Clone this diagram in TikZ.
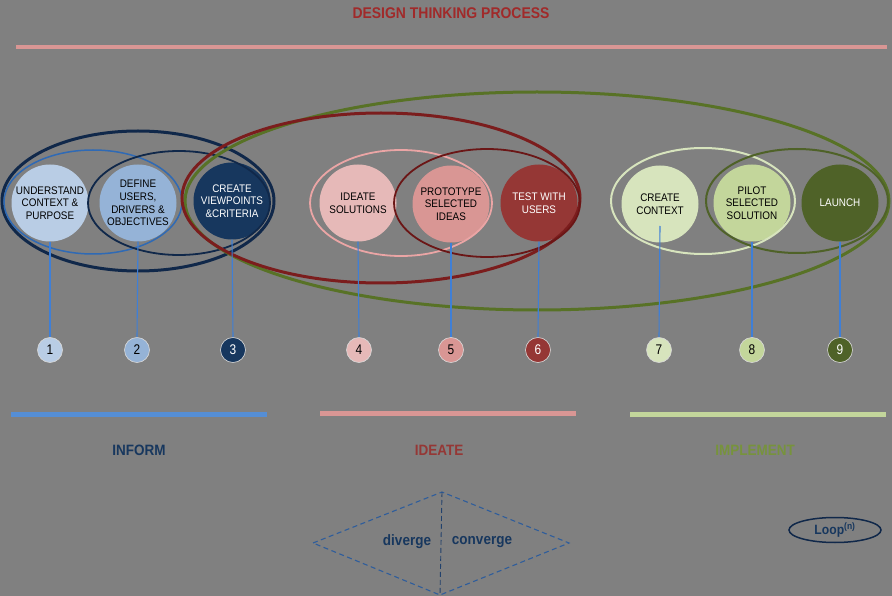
\documentclass[tikz,border=0pt]{standalone}
\usepackage{fontspec}
\setmainfont{Liberation Sans}
\newfontfamily\narrowsf[FakeStretch=0.9]{Liberation Sans}
\newfontfamily\slimsf[FakeStretch=0.85]{Liberation Sans}
\usepackage{tikz}
\usetikzlibrary{arrows.meta, positioning, shapes.geometric, calc}
\usepackage{xcolor}

\definecolor{bggray}{HTML}{808080}
\definecolor{infoA}{HTML}{B9CDE5}
\definecolor{infoB}{HTML}{95B3D7}
\definecolor{infoC}{HTML}{17375E}
\definecolor{ideaA}{HTML}{E6B9B8}
\definecolor{ideaB}{HTML}{D99694}
\definecolor{ideaC}{HTML}{953735}
\definecolor{implA}{HTML}{D7E4BD}
\definecolor{implB}{HTML}{C3D69B}
\definecolor{implC}{HTML}{4F6228}
\definecolor{linkblue}{HTML}{3F7FD6}
\definecolor{barblue}{HTML}{558ED5}
\definecolor{titlered}{HTML}{A02A2A}
\definecolor{navyline}{HTML}{10284A}
\definecolor{blueline}{HTML}{2F6AB5}
\definecolor{redline}{HTML}{7B1D1D}
\definecolor{darkredline}{HTML}{6B1616}
\definecolor{greenline}{HTML}{587226}
\definecolor{pinkline}{HTML}{EBA5A5}
\definecolor{implgreen}{HTML}{77933C}
\definecolor{diamondblue}{HTML}{2F5D9B}

\begin{document}
\begin{tikzpicture}[x=1pt, y=-1pt,
    stage/.style={circle, minimum size=77pt, inner sep=0pt, align=center,
        font=\narrowsf\fontsize{11}{12.7}\selectfont},
    stepnum/.style={circle, minimum size=25pt, inner sep=0pt, draw=white!70!gray,
        line width=0.6pt, font=\slimsf\fontsize{14}{15}\selectfont},
    stem/.style={draw=linkblue, line width=1.1pt},
    phase/.style={font=\narrowsf\fontsize{15}{17}\selectfont\bfseries},
    bar/.style={line width=5pt}]
    % background and frame
    \fill[bggray] (0,0) rectangle (892,596);
    \useasboundingbox (0,0) rectangle (892,596);

    \node (title) [font=\narrowsf\fontsize{15.5}{17}\selectfont\bfseries, text=titlered] at (451,13) {DESIGN THINKING PROCESS};
    \draw [ideaB, line width=4pt] (16,47) -- (887,47);

    % stage circles
    \node (c1) [stage, fill=infoA] at (50,203) {UNDERSTAND\\CONTEXT \&\\PURPOSE};
    \node (c2) [stage, fill=infoB] at (138,203) {DEFINE\\USERS,\\DRIVERS \&\\OBJECTIVES};
    \node (c3) [stage, fill=infoC, text=white] at (232,201) {CREATE\\VIEWPOINTS\\\&CRITERIA};
    \node (c4) [stage, fill=ideaA] at (358,203) {IDEATE\\SOLUTIONS};
    \node (c5) [stage, fill=ideaB] at (451,204) {PROTOTYPE\\SELECTED\\IDEAS};
    \node (c6) [stage, fill=ideaC, text=white] at (539,203) {TEST WITH\\USERS};
    \node (c7) [stage, fill=implA] at (660,204) {CREATE\\CONTEXT};
    \node (c8) [stage, fill=implB] at (752,203) {PILOT\\SELECTED\\SOLUTION};
    \node (c9) [stage, fill=implC, text=white] at (840,203) {LAUNCH};

    % loops
    \draw [navyline, line width=3pt] (138,201) ellipse [x radius=136pt, y radius=70pt];
    \draw [blueline, line width=1.5pt] (93,202) ellipse [x radius=89pt, y radius=52pt];
    \draw [navyline, line width=1.8pt] (179,203) ellipse [x radius=91pt, y radius=52pt];
    \draw [greenline, line width=3pt] (537,201) ellipse [x radius=352pt, y radius=109pt];
    \draw [redline, line width=3pt] (381,198) ellipse [x radius=199pt, y radius=85pt];
    \draw [pinkline, line width=1.8pt] (401,203) ellipse [x radius=91pt, y radius=53pt];
    \draw [darkredline, line width=1.8pt] (487,203) ellipse [x radius=93pt, y radius=54pt];
    \draw [implA, line width=2pt] (703,201) ellipse [x radius=92pt, y radius=53pt];
    \draw [implC, line width=2pt] (797,201) ellipse [x radius=91pt, y radius=52pt];

    % step numbers
    \node (n1) [stepnum, fill=infoA] at (50,350) {1};
    \node (n2) [stepnum, fill=infoB] at (137,350) {2};
    \node (n3) [stepnum, fill=infoC, text=white] at (233,350) {3};
    \node (n4) [stepnum, fill=ideaA] at (359,350) {4};
    \node (n5) [stepnum, fill=ideaB] at (451,350) {5};
    \node (n6) [stepnum, fill=ideaC, text=white] at (538,350) {6};
    \node (n7) [stepnum, fill=implA] at (659,350) {7};
    \node (n8) [stepnum, fill=implB] at (752,350) {8};
    \node (n9) [stepnum, fill=implC, text=white] at (840,350) {9};

    \draw [stem] (c1.south) -- (n1.north);
    \draw [stem] (c2.south) -- (n2.north);
    \draw [stem] (c3.south) -- (n3.north);
    \draw [stem] (c4.south) -- (n4.north);
    \draw [stem] (c5.south) -- (n5.north);
    \draw [stem] (c6.south) -- (n6.north);
    \draw [stem] ($(c7.center)+(0,22)$) -- (n7.north);
    \draw [stem] (c8.south) -- (n8.north);
    \draw [stem] (c9.south) -- (n9.north);

    % phases
    \draw [bar, barblue] (11,414) -- (267,414);
    \draw [bar, ideaB] (320,413) -- (576,413);
    \draw [bar, implB] (630,414) -- (886,414);
    \node (inform) [phase, text=infoC] at (139,450) {INFORM};
    \node (ideate) [phase, text=ideaC] at (439,450) {IDEATE};
    \node (implement) [phase, text=implgreen] at (755,450) {IMPLEMENT};

    % diverge / converge
    \coordinate (dleft) at (313,543);
    \coordinate (dtop) at (442,492);
    \coordinate (dright) at (569,543);
    \coordinate (dbottom) at (440,595);
    \draw [diamondblue, line width=1.1pt, dash pattern=on 5pt off 3.5pt]
        (dleft) -- (dtop) -- (dright) -- (dbottom) -- cycle;
    \draw [diamondblue!70!black, line width=0.9pt, dash pattern=on 5pt off 3pt] (dtop) -- (dbottom);
    \node (diverge) [font=\narrowsf\fontsize{15}{17}\selectfont\bfseries, text=infoC] at (407,542) {diverge};
    \node (converge) [font=\narrowsf\fontsize{15}{17}\selectfont\bfseries, text=infoC] at (482,542) {converge};

    \node (loop) [ellipse, draw=navyline, line width=1.5pt, minimum width=92pt, minimum height=25pt,
        inner sep=0pt, font=\narrowsf\fontsize{13.5}{15}\selectfont\bfseries, text=infoC] at (835,530)
        {Loop\textsuperscript{(n)}};
\end{tikzpicture}
\end{document}
